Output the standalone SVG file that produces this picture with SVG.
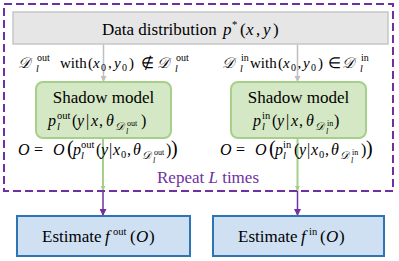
<svg xmlns="http://www.w3.org/2000/svg" width="399" height="261" viewBox="0 0 399 261">
<defs>
<marker id="ag" viewBox="0 0 6 6" refX="6" refY="3" markerWidth="6" markerHeight="6" markerUnits="userSpaceOnUse" orient="auto"><path d="M0,0 L6,3 L0,6 z" fill="#bfbfbf"/></marker>
<marker id="agr" viewBox="0 0 6 6" refX="6" refY="3" markerWidth="5" markerHeight="5" markerUnits="userSpaceOnUse" orient="auto"><path d="M0,0 L6,3 L0,6 z" fill="#a6d089"/></marker>
<marker id="ap" viewBox="0 0 6 6" refX="6" refY="3" markerWidth="7" markerHeight="7" markerUnits="userSpaceOnUse" orient="auto"><path d="M0,0 L6,3 L0,6 z" fill="#7030a0"/></marker>
</defs>
<g id="connectors">
<line x1="103.5" y1="44.5" x2="103.5" y2="82" stroke="#bfbfbf" stroke-width="1.5" marker-end="url(#ag)"/>
<line x1="297.5" y1="44.5" x2="297.5" y2="82" stroke="#bfbfbf" stroke-width="1.5" marker-end="url(#ag)"/>
<line x1="103" y1="139" x2="103" y2="191" stroke="#a6d089" stroke-width="2" marker-end="url(#agr)"/>
<line x1="297.5" y1="139" x2="297.5" y2="191" stroke="#a6d089" stroke-width="2" marker-end="url(#agr)"/>
<line x1="103" y1="191" x2="103" y2="216" stroke="#7030a0" stroke-width="1.5" marker-end="url(#ap)"/>
<line x1="297.5" y1="191" x2="297.5" y2="216" stroke="#7030a0" stroke-width="1.5" marker-end="url(#ap)"/>
</g>
<g id="repeat-frame">
<rect x="4" y="4" width="389" height="187" fill="none" stroke="#7030a0" stroke-width="2" stroke-dasharray="8 4"/>
<text x="157" y="183" font-family="Liberation Serif" font-size="17" fill="#7030a0" style="font-family:'Liberation Serif' !important">Repeat <tspan font-style="italic">L</tspan> times</text>
</g>
<g id="data-distribution">
<rect x="13" y="12" width="375" height="32" fill="#e6e6e6" stroke="#c6c6c6" stroke-width="1.5"/>
<text y="35" font-family="Liberation Serif" font-size="17" style="font-family:'Liberation Serif' !important"><tspan x="102">Data distribution</tspan><tspan x="223" font-style="italic">p</tspan><tspan x="232" y="28" font-size="10.5">*</tspan><tspan x="240" y="35">(</tspan><tspan x="246" font-style="italic">x</tspan><tspan x="256">,</tspan><tspan x="263" font-style="italic">y</tspan><tspan x="273">)</tspan></text>
</g>
<g id="labels">
<text y="68" font-family="Liberation Serif" font-size="15" style="font-family:'Liberation Serif' !important"><tspan x="18" font-style="italic">𝒟</tspan><tspan x="37" y="61" font-size="10">out</tspan><tspan x="36" y="72" font-size="10" font-style="italic">l</tspan><tspan x="60" y="68">with</tspan><tspan x="88">(</tspan><tspan x="93" font-style="italic">x</tspan><tspan x="101" y="71" font-size="10">0</tspan><tspan x="108" y="68">,</tspan><tspan x="114" font-style="italic">y</tspan><tspan x="122" y="71" font-size="10">0</tspan><tspan x="129" y="68">)</tspan><tspan x="141">∉</tspan><tspan x="157" font-style="italic">𝒟</tspan><tspan x="176" y="61" font-size="10">out</tspan><tspan x="175" y="72" font-size="10" font-style="italic">l</tspan></text>
<text y="68" font-family="Liberation Serif" font-size="15" style="font-family:'Liberation Serif' !important"><tspan x="222" font-style="italic">𝒟</tspan><tspan x="241" y="61" font-size="10">in</tspan><tspan x="240" y="72" font-size="10" font-style="italic">l</tspan><tspan x="250" y="68">with</tspan><tspan x="278">(</tspan><tspan x="283" font-style="italic">x</tspan><tspan x="291" y="71" font-size="10">0</tspan><tspan x="297.5" y="68">,</tspan><tspan x="303" font-style="italic">y</tspan><tspan x="311" y="71" font-size="10">0</tspan><tspan x="318" y="68">)</tspan><tspan x="328">∈</tspan><tspan x="342" font-style="italic">𝒟</tspan><tspan x="361" y="61" font-size="10">in</tspan><tspan x="360" y="72" font-size="10" font-style="italic">l</tspan></text>
</g>
<g id="shadow-out">
<rect x="36" y="82" width="135" height="56" rx="7" fill="#d5e8c5" stroke="#a6d089" stroke-width="2"/>
<text x="103.5" y="103" text-anchor="middle" font-family="Liberation Serif" font-size="17" style="font-family:'Liberation Serif' !important">Shadow model</text>
<text y="126" font-family="Liberation Serif" font-size="16" style="font-family:'Liberation Serif' !important"><tspan x="48" font-style="italic">p</tspan><tspan x="57" y="119" font-size="10.5">out</tspan><tspan x="57" y="130" font-size="10.5" font-style="italic">l</tspan><tspan x="72" y="126">(</tspan><tspan x="77" font-style="italic">y</tspan><tspan x="86">|</tspan><tspan x="91" font-style="italic">x</tspan><tspan x="99">,</tspan><tspan x="106" font-style="italic">θ</tspan><tspan x="115" y="130" font-size="11" font-style="italic">𝒟</tspan><tspan x="127" y="126" font-size="8">out</tspan><tspan x="126" y="134" font-size="8" font-style="italic">l</tspan><tspan x="141" y="126">)</tspan></text>
<text y="155" font-family="Liberation Serif" font-size="16" style="font-family:'Liberation Serif' !important"><tspan x="18" font-style="italic">O</tspan><tspan x="34">=</tspan><tspan x="53" font-style="italic">O</tspan><tspan x="67" font-size="20">(</tspan><tspan x="73" font-style="italic">p</tspan><tspan x="81" y="148" font-size="10.5">out</tspan><tspan x="81" y="159" font-size="10.5" font-style="italic">l</tspan><tspan x="96" y="155">(</tspan><tspan x="101" font-style="italic">y</tspan><tspan x="109">|</tspan><tspan x="113" font-style="italic">x</tspan><tspan x="121" y="158" font-size="10.5">0</tspan><tspan x="127" y="155">,</tspan><tspan x="133" font-style="italic">θ</tspan><tspan x="142" y="159" font-size="11" font-style="italic">𝒟</tspan><tspan x="154" y="155" font-size="8">out</tspan><tspan x="153" y="163" font-size="8" font-style="italic">l</tspan><tspan x="166" y="155">)</tspan><tspan x="171" font-size="20">)</tspan></text>
</g>
<g id="shadow-in">
<rect x="231" y="82" width="135" height="56" rx="7" fill="#d5e8c5" stroke="#a6d089" stroke-width="2"/>
<text x="298.5" y="103" text-anchor="middle" font-family="Liberation Serif" font-size="17" style="font-family:'Liberation Serif' !important">Shadow model</text>
<text y="126" font-family="Liberation Serif" font-size="16" style="font-family:'Liberation Serif' !important"><tspan x="253" font-style="italic">p</tspan><tspan x="262" y="119" font-size="10.5">in</tspan><tspan x="262" y="130" font-size="10.5" font-style="italic">l</tspan><tspan x="272" y="126">(</tspan><tspan x="277" font-style="italic">y</tspan><tspan x="286">|</tspan><tspan x="291" font-style="italic">x</tspan><tspan x="299">,</tspan><tspan x="306" font-style="italic">θ</tspan><tspan x="315" y="130" font-size="11" font-style="italic">𝒟</tspan><tspan x="327" y="126" font-size="8">in</tspan><tspan x="326" y="134" font-size="8" font-style="italic">l</tspan><tspan x="334" y="126">)</tspan></text>
<text y="155" font-family="Liberation Serif" font-size="16" style="font-family:'Liberation Serif' !important"><tspan x="220" font-style="italic">O</tspan><tspan x="236">=</tspan><tspan x="255" font-style="italic">O</tspan><tspan x="269" font-size="20">(</tspan><tspan x="275" font-style="italic">p</tspan><tspan x="283" y="148" font-size="10.5">in</tspan><tspan x="283" y="159" font-size="10.5" font-style="italic">l</tspan><tspan x="294" y="155">(</tspan><tspan x="299" font-style="italic">y</tspan><tspan x="307">|</tspan><tspan x="311" font-style="italic">x</tspan><tspan x="319" y="158" font-size="10.5">0</tspan><tspan x="325" y="155">,</tspan><tspan x="331" font-style="italic">θ</tspan><tspan x="340" y="159" font-size="11" font-style="italic">𝒟</tspan><tspan x="352" y="155" font-size="8">in</tspan><tspan x="351" y="163" font-size="8" font-style="italic">l</tspan><tspan x="361" y="155">)</tspan><tspan x="366" font-size="20">)</tspan></text>
</g>
<g id="estimate-out">
<rect x="17" y="216" width="173" height="40" fill="#cfe0f3" stroke="#2f75b5" stroke-width="2"/>
<text y="242" font-family="Liberation Serif" font-size="17" style="font-family:'Liberation Serif' !important"><tspan x="42">Estimate</tspan><tspan x="105" font-style="italic">f</tspan><tspan x="113" y="235" font-size="10.5">out</tspan><tspan x="130" y="242">(</tspan><tspan x="136" font-style="italic">O</tspan><tspan x="149">)</tspan></text>
</g>
<g id="estimate-in">
<rect x="213" y="216" width="171" height="40" fill="#cfe0f3" stroke="#2f75b5" stroke-width="2"/>
<text y="242" font-family="Liberation Serif" font-size="17" style="font-family:'Liberation Serif' !important"><tspan x="238">Estimate</tspan><tspan x="301" font-style="italic">f</tspan><tspan x="309" y="235" font-size="10.5">in</tspan><tspan x="320" y="242">(</tspan><tspan x="326" font-style="italic">O</tspan><tspan x="339">)</tspan></text>
</g>
</svg>
